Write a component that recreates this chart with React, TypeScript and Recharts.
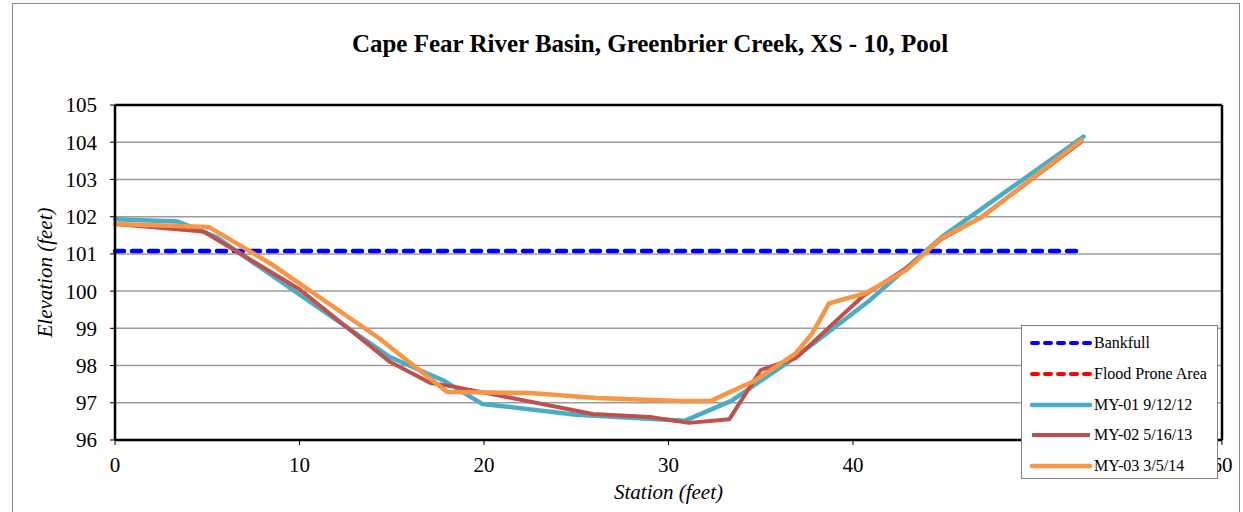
import React from 'react';
import { LineChart, Line, XAxis, YAxis, CartesianGrid, ReferenceLine, Legend } from 'recharts';

const FONT = '"Liberation Serif", Tinos, "DejaVu Serif", serif';

const titleText = 'Cape Fear River Basin, Greenbrier Creek, XS - 10, Pool';
const xAxisTitle = 'Station (feet)';
const yAxisTitle = 'Elevation (feet)';

const xTicks = [0, 10, 20, 30, 40, 50, 60];
const xMinorTicks = [5, 15, 25, 35, 45, 55];
const yTicks = [96, 97, 98, 99, 100, 101, 102, 103, 104, 105];
const yMinorTicks = [96.5, 97.5, 98.5, 99.5, 100.5, 101.5, 102.5, 103.5, 104.5];

const bankfullStation = [0, 52.3];
const bankfullElev = [101.08, 101.08];

const floodStation: number[] = [];
const floodElev: number[] = [];

const my01Station = [0, 3.4, 5.5, 14.9, 17.8, 19.9, 25, 30.9, 33.4, 36.9, 40.9, 44.8, 52.5];
const my01Elev = [101.93, 101.87, 101.45, 98.23, 97.6, 96.97, 96.68, 96.52, 97.05, 98.23, 99.75, 101.45, 104.15];

const my02Station = [0, 4.8, 10, 14.9, 17.1, 18.5, 25.9, 29, 31.1, 33.3, 35, 36.9, 40.5, 42.9, 44.8, 47, 52.4];
const my02Elev = [101.8, 101.6, 100.05, 98.1, 97.53, 97.42, 96.7, 96.62, 96.46, 96.56, 97.88, 98.2, 99.85, 100.62, 101.4, 102.0, 104.02];

const my03Station = [0, 5.1, 8.4, 14.3, 18, 22.5, 26.1, 30.6, 32.3, 34.7, 36.9, 37.8, 38.7, 40.7, 42.9, 44.8, 47, 52.4];
const my03Elev = [101.8, 101.72, 100.75, 98.74, 97.29, 97.26, 97.13, 97.05, 97.05, 97.6, 98.33, 98.87, 99.67, 99.95, 100.57, 101.43, 101.99, 104.06];

const toPoints = (xs: number[], ys: number[]) => xs.map((x, i) => ({ x, y: ys[i] }));

const legendItems = [
  { name: 'Bankfull', color: '#0000FF', dash: '6 7', width: 4, cap: 'round' },
  { name: 'Flood Prone Area', color: '#FF0000', dash: '6 7', width: 4, cap: 'round' },
  { name: 'MY-01 9/12/12', color: '#4BACC6', dash: '', width: 4.5, cap: 'round' },
  { name: 'MY-02 5/16/13', color: '#C0504D', dash: '', width: 4, cap: 'butt' },
  { name: 'MY-03 3/5/14', color: '#F79646', dash: '', width: 4.5, cap: 'round' },
];

const renderLegend = () => (
  <div
    style={{
      width: 197,
      height: 154,
      boxSizing: 'border-box',
      border: '1px solid #808080',
      background: '#fff',
      fontFamily: FONT,
      fontSize: 16,
      color: '#000',
      paddingTop: 2,
    }}
  >
    {legendItems.map((it) => (
      <div key={it.name} style={{ display: 'flex', alignItems: 'center', height: 30.7 }}>
        <svg width={70} height={10} style={{ marginLeft: 6, flex: 'none' }}>
          <line
            x1={4}
            x2={62}
            y1={5}
            y2={5}
            stroke={it.color}
            strokeWidth={it.width}
            strokeDasharray={it.dash || undefined}
            strokeLinecap={it.cap as any}
          />
        </svg>
        <span style={{ marginLeft: -4, whiteSpace: 'nowrap' }}>{it.name}</span>
      </div>
    ))}
  </div>
);

export default function App() {
  return (
    <div style={{ position: 'absolute', left: 0, top: 0, width: 1243, height: 512, background: '#fff', overflow: 'hidden' }}>
      <div
        style={{
          position: 'absolute',
          left: 12,
          top: 3,
          width: 1228,
          height: 540,
          border: '1px solid #888',
          boxSizing: 'border-box',
        }}
      />
      <div
        style={{
          position: 'absolute',
          left: 0,
          top: 28,
          width: 1300,
          textAlign: 'center',
          fontFamily: FONT,
          fontWeight: 'bold',
          fontSize: 25,
          color: '#000',
          lineHeight: '32px',
        }}
      >
        {titleText}
      </div>
      <LineChart width={1243} height={512} margin={{ top: 105, right: 21, bottom: 8, left: 15 }}>
        <CartesianGrid vertical={false} stroke="#9c9c9c" strokeWidth={1.5} />
        <XAxis
          xAxisId="minor"
          type="number"
          dataKey="x"
          domain={[0, 60]}
          ticks={xMinorTicks}
          interval={0}
          mirror
          height={0}
          axisLine={false}
          tickSize={5}
          tickLine={{ stroke: '#000', strokeWidth: 1 }}
          tickFormatter={() => ''}
        />
        <XAxis
          type="number"
          dataKey="x"
          domain={[0, 60]}
          ticks={xTicks}
          interval={0}
          height={64}
          tickSize={5}
          tickMargin={12}
          axisLine={{ stroke: '#000', strokeWidth: 2.5 }}
          tickLine={{ stroke: '#000', strokeWidth: 1 }}
          tick={{ fill: '#000', fontSize: 21, fontFamily: FONT }}
          label={{ value: xAxisTitle, position: 'insideBottom', offset: 5, style: { fontFamily: FONT, fontStyle: 'italic', fontSize: 21, fill: '#000' } }}
        />
        <YAxis
          yAxisId="minor"
          type="number"
          domain={[96, 105]}
          ticks={yMinorTicks}
          interval={0}
          mirror
          width={0}
          axisLine={false}
          tickSize={5}
          tickLine={{ stroke: '#000', strokeWidth: 1 }}
          tickFormatter={() => ''}
        />
        <YAxis
          type="number"
          domain={[96, 105]}
          ticks={yTicks}
          interval={0}
          width={100}
          tickSize={5}
          tickMargin={13}
          axisLine={{ stroke: '#000', strokeWidth: 2.5 }}
          tickLine={{ stroke: '#000', strokeWidth: 1 }}
          tick={{ fill: '#000', fontSize: 21, fontFamily: FONT }}
          label={{ value: yAxisTitle, angle: -90, position: 'insideLeft', offset: 30, style: { textAnchor: 'middle', fontFamily: FONT, fontStyle: 'italic', fontSize: 21, fill: '#000' } }}
        />
        <ReferenceLine y={105} stroke="#000" strokeWidth={2.5} />
        <ReferenceLine x={60} stroke="#000" strokeWidth={2.5} />
        <Line data={toPoints(bankfullStation, bankfullElev)} dataKey="y" name="Bankfull" stroke="#0000FF" strokeWidth={4.5} strokeDasharray="9 8" strokeLinecap="round" dot={false} isAnimationActive={false} />
        <Line data={toPoints(floodStation, floodElev)} dataKey="y" name="Flood Prone Area" stroke="#FF0000" strokeWidth={4} strokeDasharray="9 8" dot={false} isAnimationActive={false} />
        <Line data={toPoints(my01Station, my01Elev)} dataKey="y" name="MY-01 9/12/12" stroke="#4BACC6" strokeWidth={4.5} strokeLinecap="round" strokeLinejoin="round" dot={false} isAnimationActive={false} />
        <Line data={toPoints(my02Station, my02Elev)} dataKey="y" name="MY-02 5/16/13" stroke="#C0504D" strokeWidth={4} strokeLinejoin="round" dot={false} isAnimationActive={false} />
        <Line data={toPoints(my03Station, my03Elev)} dataKey="y" name="MY-03 3/5/14" stroke="#F79646" strokeWidth={4.5} strokeLinecap="round" strokeLinejoin="round" dot={false} isAnimationActive={false} />
        <Legend
          layout="horizontal"
          verticalAlign="middle"
          align="center"
          content={renderLegend}
          wrapperStyle={{ left: 1021, top: 325, width: 197, height: 154 }}
        />
      </LineChart>
    </div>
  );
}
